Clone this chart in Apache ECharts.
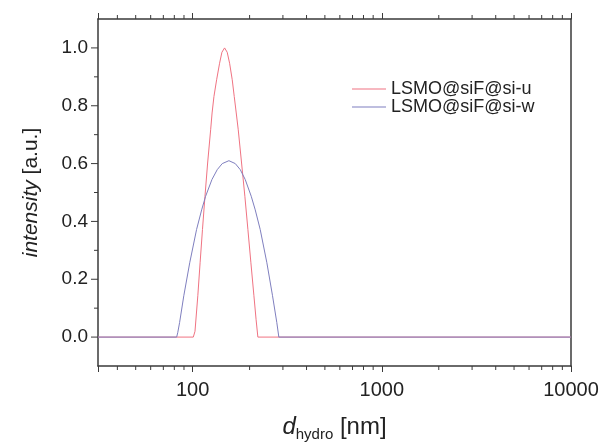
<!DOCTYPE html>
<html>
<head>
<meta charset="utf-8">
<script src="https://cdn.jsdelivr.net/npm/echarts@6/dist/echarts.min.js"></script>
<style>
  html, body { margin: 0; padding: 0; background: #fff; }
  #chart { width: 601px; height: 444px; }
</style>
</head>
<body>
<div id="chart"></div>
<script>
// DLS size distributions
var seriesNames = ['LSMO@siF@si-u', 'LSMO@siF@si-w'];

var sizeU = [31.6, 100.8, 102.9, 106.5, 109.5, 112.7, 116.2, 120.0, 124.5, 126.7, 129.6, 133.9, 138.8, 142.8, 147.5,
             152.3, 156.8, 161.9, 165.9, 170.0, 174.2, 181.4, 188.8, 195.9, 203.2, 210.8, 216.5, 221.2, 10000];
var intensityU = [0, 0, 0.02, 0.143, 0.257, 0.372, 0.487, 0.602, 0.717, 0.775, 0.832, 0.89, 0.947, 0.985, 1.0,
                  0.985, 0.947, 0.89, 0.832, 0.775, 0.717, 0.602, 0.487, 0.372, 0.257, 0.143, 0.06, 0, 0];

var sizeW = [31.6, 82.3, 83.4, 85.3, 89.8, 96.5, 104.9, 111.6, 117.1, 126.5, 134.9, 143.4, 155.5,
             168, 178.5, 189.6, 204, 214.2, 227.6, 246.8, 264.4, 278.6, 285.5, 10000];
var intensityW = [0, 0, 0.015, 0.05, 0.143, 0.257, 0.372, 0.44, 0.487, 0.545, 0.579, 0.6, 0.61,
                  0.6, 0.579, 0.545, 0.487, 0.44, 0.372, 0.257, 0.143, 0.05, 0, 0];

var xTickLabels = [100, 1000, 10000];
var xMinorTicks = [40, 50, 60, 70, 80, 90, 200, 300, 400, 500, 600, 700, 800, 900,
                   2000, 3000, 4000, 5000, 6000, 7000, 8000, 9000];
var yTickLabels = [0, 0.2, 0.4, 0.6, 0.8, 1.0];
var yMinorTicks = [0.1, 0.3, 0.5, 0.7, 0.9];

var xMin = 31.6, xMax = 10000, yMin = -0.1, yMax = 1.1;
var axisColor = '#3a3a3a';
var font = 'Liberation Sans';

function pairs(xs, ys) {
  return xs.map(function (x, i) { return [x, ys[i]]; });
}

// minor ticks of the log axis, bottom and mirrored on top
function renderXMinor(params, api) {
  var b = api.coord([api.value(0), yMin]);
  var t = api.coord([api.value(0), yMax]);
  var st = { stroke: axisColor, lineWidth: 1 };
  return {
    type: 'group',
    children: [
      { type: 'line', shape: { x1: b[0], y1: b[1], x2: b[0], y2: b[1] + 4 }, style: st },
      { type: 'line', shape: { x1: t[0], y1: t[1], x2: t[0], y2: t[1] - 4 }, style: st }
    ]
  };
}

function yTickRenderer(len) {
  return function (params, api) {
    var p = api.coord([xMin, api.value(1)]);
    return {
      type: 'line',
      shape: { x1: p[0] - len, y1: p[1], x2: p[0], y2: p[1] },
      style: { stroke: axisColor, lineWidth: 1 }
    };
  };
}

var chart = echarts.init(document.getElementById('chart'));

var option = {
  animation: false,
  backgroundColor: '#fff',
  grid: { left: 98, right: 30, top: 19, bottom: 78, containLabel: false, outerBoundsMode: 'none' },
  legend: {
    data: seriesNames,
    orient: 'vertical',
    left: 347,
    top: 75,
    icon: 'rect',
    itemWidth: 34,
    itemHeight: 1,
    itemGap: 0,
    textStyle: { fontFamily: font, fontSize: 18, color: '#222', lineHeight: 16 }
  },
  xAxis: [
    {
      type: 'log',
      min: xMin,
      max: xMax,
      position: 'bottom',
      axisLine: { show: true, onZero: false, lineStyle: { color: axisColor, width: 1.5 } },
      axisTick: { show: true, inside: false, length: 6, lineStyle: { color: axisColor } },
      axisLabel: {
        margin: 14,
        fontFamily: font, fontSize: 20, color: '#222',
        formatter: function (v) {
          var r = Math.round(v);
          return xTickLabels.indexOf(r) >= 0 ? String(r) : '';
        }
      },
      splitLine: { show: false },
      name: '{i|d}{s|hydro}{n| [nm]}',
      nameLocation: 'middle',
      nameGap: 46,
      nameTextStyle: {
        rich: {
          i: { fontFamily: font, fontSize: 24, fontStyle: 'italic', color: '#222', lineHeight: 30 },
          s: { fontFamily: font, fontSize: 15, color: '#222', lineHeight: 11, verticalAlign: 'bottom' },
          n: { fontFamily: font, fontSize: 24, color: '#222', lineHeight: 30 }
        }
      }
    },
    {
      type: 'log',
      min: xMin,
      max: xMax,
      position: 'top',
      axisLine: { show: true, onZero: false, lineStyle: { color: axisColor, width: 1.5 } },
      axisTick: { show: true, inside: false, length: 6, lineStyle: { color: axisColor } },
      axisLabel: { show: false },
      splitLine: { show: false }
    }
  ],
  yAxis: [
    {
      type: 'value',
      min: yMin,
      max: yMax,
      interval: 0.1,
      position: 'left',
      axisLine: { show: true, onZero: false, lineStyle: { color: axisColor, width: 1.5 } },
      axisTick: { show: false },
      axisLabel: {
        margin: 10,
        fontFamily: font, fontSize: 19, color: '#222',
        formatter: function (v) {
          for (var i = 0; i < yTickLabels.length; i++) {
            if (Math.abs(v - yTickLabels[i]) < 1e-6) return yTickLabels[i].toFixed(1);
          }
          return '';
        }
      },
      splitLine: { show: false },
      name: '{i|intensity}{n| [a.u.]}',
      nameLocation: 'middle',
      nameGap: 56,
      nameTextStyle: {
        rich: {
          i: { fontFamily: font, fontSize: 21, fontStyle: 'italic', color: '#222' },
          n: { fontFamily: font, fontSize: 21, color: '#222' }
        }
      }
    },
    {
      type: 'value',
      min: yMin,
      max: yMax,
      position: 'right',
      axisLine: { show: true, onZero: false, lineStyle: { color: axisColor, width: 1.5 } },
      axisTick: { show: false },
      axisLabel: { show: false },
      splitLine: { show: false }
    }
  ],
  series: [
    {
      name: seriesNames[0],
      type: 'line',
      data: pairs(sizeU, intensityU),
      symbol: 'none',
      lineStyle: { color: '#f07382', width: 1 },
      itemStyle: { color: '#f07382' }
    },
    {
      name: seriesNames[1],
      type: 'line',
      data: pairs(sizeW, intensityW),
      symbol: 'none',
      lineStyle: { color: '#7f7fbf', width: 1 },
      itemStyle: { color: '#7f7fbf' }
    },
    {
      type: 'custom',
      silent: true,
      clip: false,
      renderItem: renderXMinor,
      data: xMinorTicks.map(function (v) { return [v, 0]; })
    },
    {
      type: 'custom',
      silent: true,
      clip: false,
      renderItem: yTickRenderer(7),
      data: yTickLabels.map(function (v) { return [xMin, v]; })
    },
    {
      type: 'custom',
      silent: true,
      clip: false,
      renderItem: yTickRenderer(4),
      data: yMinorTicks.map(function (v) { return [xMin, v]; })
    }
  ]
};

option && chart.setOption(option);
</script>
</body>
</html>
